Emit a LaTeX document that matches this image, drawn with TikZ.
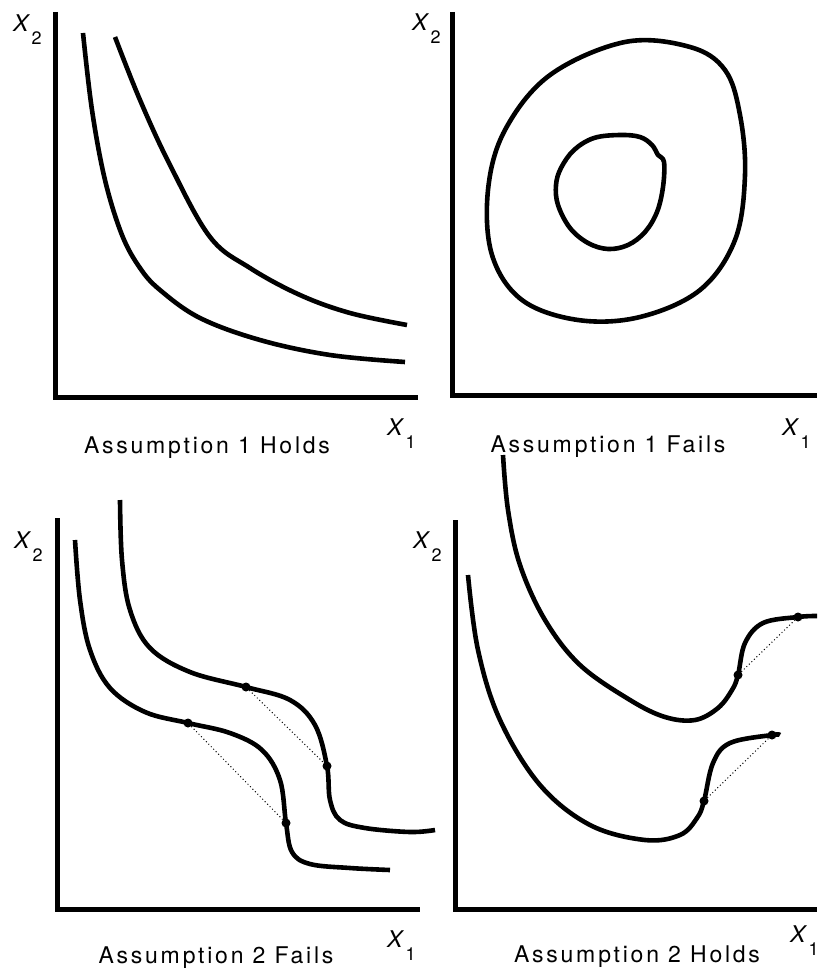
\documentclass[tikz,border=0pt]{standalone}
\usepackage{fontspec}
\setmainfont{TeX Gyre Heros}
\newfontfamily\capfont{TeX Gyre Heros}[LetterSpace=12]
\newcommand\axlab[1]{{\fontsize{23}{23}\selectfont\itshape X}\hspace{3pt}\raisebox{-13pt}{\fontsize{18}{18}\selectfont #1}}
\begin{document}
\begin{tikzpicture}[x=1pt,y=-1pt,
  axisline/.style={line width=5pt},
  curve/.style={line width=4.6pt, line join=round},
  chord/.style={line width=1pt, dash pattern=on 1pt off 2.5pt},
  dotmark/.style={circle, fill=black, inner sep=0pt, minimum size=9pt},
  captxt/.style={anchor=base, inner sep=0pt, font=\capfont\fontsize{23}{23}\selectfont},
  xlabel/.style={anchor=base west, inner sep=0pt}]
\useasboundingbox (0,0) rectangle (817,971);
\fill[white] (0,0) rectangle (817,971);

% ---------- top left ----------
\draw[axisline] (55,12) -- (55,400);
\draw[axisline] (53,397) -- (418,397);
\node[xlabel] (tlx2) at (13,32) {\axlab{2}};
\node[xlabel] (tlx1) at (387,435) {\axlab{1}};
\node[captxt] (tlcap) at (207,453) {Assumption 1 Holds};
\draw[curve] plot[smooth, tension=0.6] coordinates {(83,33) (92,110) (105,180) (122,235) (140,268) (160,290) (200,318) (260,340) (330,355) (405,362)};
\draw[curve] plot[smooth, tension=0.6] coordinates {(115,37) (140,100) (170,165) (210,237) (250,268) (300,295) (350,313) (407,325)};

% ---------- top right ----------
\draw[axisline] (452,12) -- (452,398);
\draw[axisline] (450,395) -- (817,395);
\node[xlabel] (trx2) at (412,31) {\axlab{2}};
\node[xlabel] (trx1) at (782,435) {\axlab{1}};
\node[captxt] (trcap) at (608,452) {Assumption 1 Fails};
\draw[curve] plot[smooth cycle, tension=0.6] coordinates {(625,42) (690,47) (725,70) (740,115) (745,175) (735,240) (700,290) (640,317) (578,320) (522,300) (492,255) (488,190) (505,130) (550,75)};
\draw[curve] plot[smooth cycle, tension=0.6] coordinates {(620,135) (640,137) (652,145) (658,155) (664,162) (663,187) (657,212) (645,232) (628,245) (608,249) (588,243) (570,228) (558,205) (556,185) (561,168) (574,150) (594,138)};

% ---------- bottom left ----------
\draw[axisline] (57,518) -- (57,912);
\draw[axisline] (55,909) -- (420,909);
\node[xlabel] (blx2) at (14,548) {\axlab{2}};
\node[xlabel] (blx1) at (387,947) {\axlab{1}};
\node[captxt] (blcap) at (216,963) {Assumption 2 Fails};
\draw[curve] plot[smooth, tension=0.6] coordinates {(75,540) (80,600) (90,650) (110,688) (145,712) (188,723) (230,733) (262,750) (280,780) (286,823) (292,852) (310,864) (350,868) (390,870)};
\draw[curve] plot[smooth, tension=0.6] coordinates {(120,500) (122,560) (130,610) (150,648) (190,672) (246,687) (290,700) (315,725) (327,766) (330,800) (340,820) (365,828) (410,832) (435,830)};
\node[dotmark] (bla) at (246,687) {};
\node[dotmark] (blb) at (327,766) {};
\node[dotmark] (blc) at (188,723) {};
\node[dotmark] (bld) at (286,823) {};
\draw[chord] (bla) -- (blb);
\draw[chord] (blc) -- (bld);

% ---------- bottom right ----------
\draw[axisline] (455,520) -- (455,912);
\draw[axisline] (453,909) -- (817,909);
\node[xlabel] (brx2) at (413,548) {\axlab{2}};
\node[xlabel] (brx1) at (790,942) {\axlab{1}};
\node[captxt] (brcap) at (637,962) {Assumption 2 Holds};
\draw[curve] plot[smooth, tension=0.6] coordinates {(503,455) (508,510) (520,565) (545,620) (580,665) (630,700) (665,717) (695,720) (718,708) (732,690) (738,675) (745,643) (763,623) (798,617) (817,616)};
\draw[curve] plot[smooth, tension=0.6] coordinates {(468,575) (478,650) (500,720) (540,785) (590,825) (645,840) (680,835) (697,818) (704,801) (713,763) (730,743) (772,735) (780,735)};
\node[dotmark] (bra) at (738,675) {};
\node[dotmark] (brb) at (798,617) {};
\node[dotmark] (brc) at (704,801) {};
\node[dotmark] (brd) at (772,735) {};
\draw[chord] (bra) -- (brb);
\draw[chord] (brc) -- (brd);
\end{tikzpicture}
\end{document}
